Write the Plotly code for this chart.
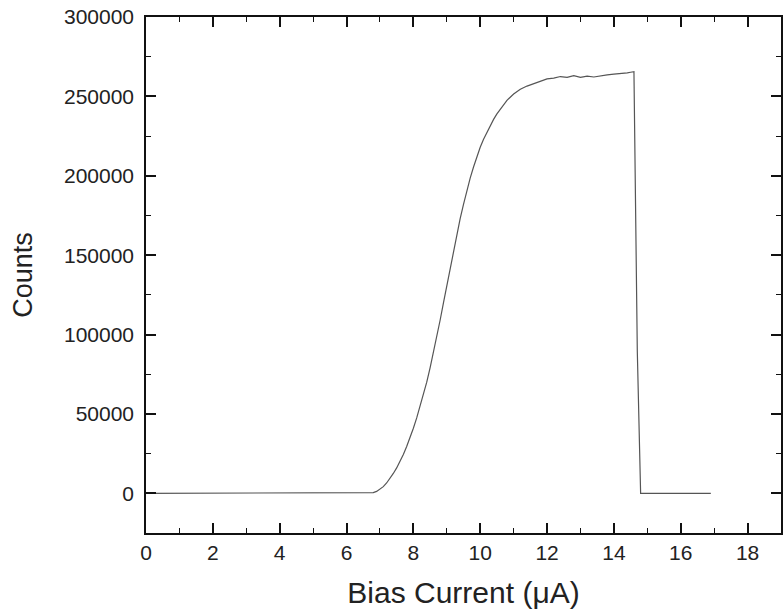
import plotly.graph_objects as go

bias_current_uA = [
    0.0, 2.0, 4.0, 6.0, 6.7, 6.8, 6.9, 7.0, 7.1, 7.2, 7.3, 7.4, 7.5, 7.6, 7.7, 7.8, 7.9,
    8.0, 8.1, 8.2, 8.3, 8.4, 8.5, 8.6, 8.7, 8.8, 8.9, 9.0, 9.1, 9.2, 9.3, 9.4,
    9.5, 9.6, 9.7, 9.8, 9.9, 10.0, 10.1, 10.2, 10.3, 10.4, 10.5, 10.6, 10.8, 11.0, 11.2, 11.4,
    11.6, 11.8, 12.0, 12.2, 12.4, 12.6, 12.8, 13.0, 13.2, 13.4, 13.6, 13.8,
    14.0, 14.2, 14.4, 14.5, 14.6, 14.7, 14.8, 16.0, 16.9,
]
counts = [
    0, 0, 0, 0, 0, 400, 1200, 2500, 4200, 6500, 9200, 12500, 16000, 20000, 24500, 29500, 35000,
    41000, 47500, 54500, 62000, 70000, 79000, 88500, 98500, 109000, 120000, 131000, 142000, 153000, 163500, 173000,
    182000, 190500, 198500, 205500, 212000, 218000, 223000, 227500, 231500, 235500, 239000, 242000, 247500, 251500, 254500, 256500,
    258000, 259500, 261000, 261500, 262500, 262000, 263000, 262000, 262800, 262200, 263000, 263500,
    264000, 264200, 264800, 265200, 265500, 90000, 0, 0, 0,
]

x_title = "Bias Current (\u03bcA)"
y_title = "Counts"

fig = go.Figure()
fig.add_trace(go.Scatter(
    x=bias_current_uA, y=counts, mode="lines",
    line=dict(color="#555555", width=1.2),
    showlegend=False,
))

font_family = "Liberation Sans, Arial, sans-serif"

fig.update_layout(
    width=783, height=613,
    margin=dict(l=146, r=0, t=17, b=80),
    paper_bgcolor="white", plot_bgcolor="white",
    font=dict(family=font_family, color="#222222"),
    xaxis=dict(
        range=[0, 19], tick0=0, dtick=2,
        showgrid=False, zeroline=False,
        showline=True, linecolor="#111111", linewidth=1.5, mirror="ticks",
        ticks="inside", ticklen=10, tickwidth=1.5, tickcolor="#111111",
        minor=dict(dtick=1, ticks="inside", ticklen=5, tickwidth=1.2, tickcolor="#111111", showgrid=False),
        tickfont=dict(size=21, family=font_family, color="#222222"),
        title=dict(text=x_title, font=dict(size=30, family=font_family, color="#222222"), standoff=19),
    ),
    yaxis=dict(
        range=[-25000, 300000], tick0=0, dtick=50000, tickformat="d",
        showgrid=False, zeroline=False,
        showline=True, linecolor="#111111", linewidth=1.5, mirror="ticks",
        ticks="inside", ticklen=10, tickwidth=1.5, tickcolor="#111111",
        minor=dict(dtick=25000, ticks="inside", ticklen=5, tickwidth=1.2, tickcolor="#111111", showgrid=False),
        tickfont=dict(size=21, family=font_family, color="#222222"),
        ticklabelstandoff=6,
        title=dict(text=y_title, font=dict(size=27, family=font_family, color="#222222"), standoff=24),
    ),
)

fig.write_html("out.html")
